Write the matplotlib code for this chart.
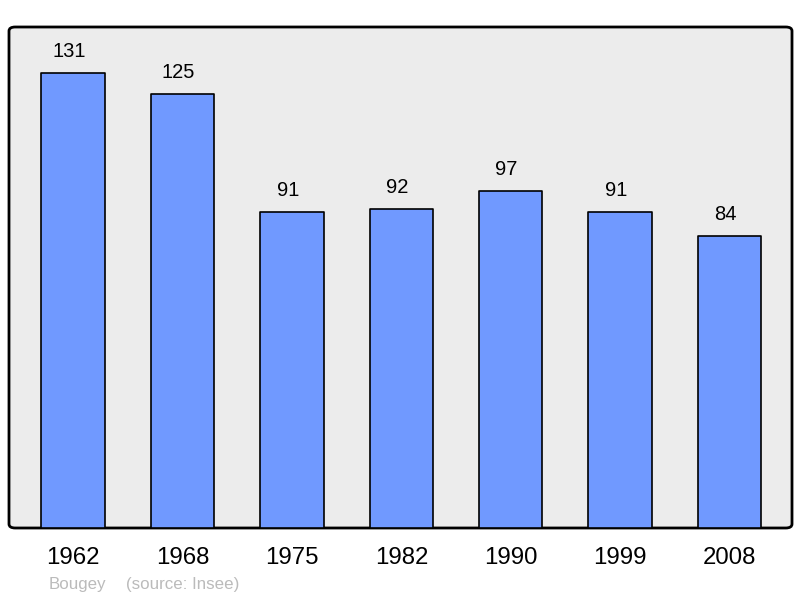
import matplotlib.pyplot as plt
from matplotlib.patches import FancyBboxPatch

plt.rcParams['font.family'] = ['Liberation Sans', 'DejaVu Sans']

years = ['1962', '1968', '1975', '1982', '1990', '1999', '2008']
population = [131, 125, 91, 92, 97, 91, 84]

fig = plt.figure(figsize=(8, 5.98), dpi=100)
ax = fig.add_axes([9/800, 70/598, 783/800, 501/598])
ax.set_xlim(-0.585, 6.57)
ax.set_ylim(0, 144.3)
for s in ax.spines.values():
    s.set_visible(False)
ax.patch.set_visible(False)

frame = FancyBboxPatch((0, 0), 1, 1, boxstyle='round,pad=0,rounding_size=0.008',
                       transform=ax.transAxes, facecolor='#ececec',
                       edgecolor='black', linewidth=2, zorder=0, clip_on=False)
ax.add_patch(frame)

x = range(len(years))
bars = ax.bar(x, population, width=0.58, color='#7099ff', edgecolor='black',
              linewidth=1.2, zorder=2)
for b in bars:
    b.set_joinstyle('round')
for i, v in enumerate(population):
    ax.annotate(str(v), (i, v), xytext=(-3, 15.5), textcoords='offset points',
                ha='center', va='center', fontsize=14.5)

ax.set_xticks(list(x))
ax.set_xticklabels(years, fontsize=17.3)
ax.tick_params(axis='x', length=0, pad=14)
ax.set_yticks([])

fig.text(49/800, 1 - 584/598, 'Bougey', color='#bbbbbb',
         fontsize=12.2, va='center', ha='left')
fig.text(126/800, 1 - 584/598, '(source: Insee)', color='#bbbbbb',
         fontsize=12.2, va='center', ha='left')

fig.savefig('out.png', dpi=100)
